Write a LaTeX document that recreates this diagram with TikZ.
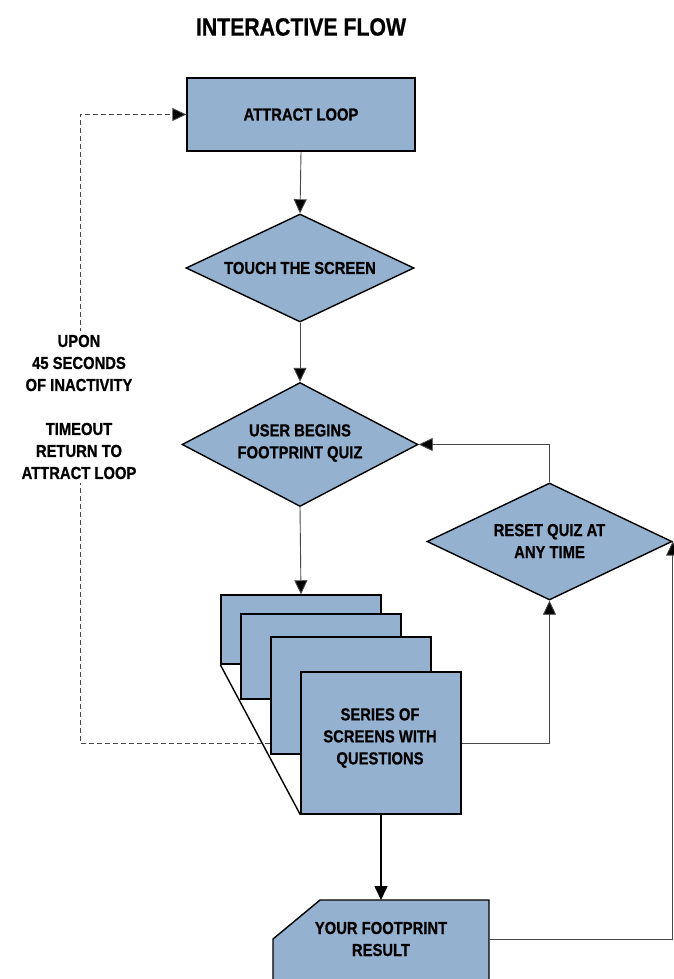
\documentclass[tikz,border=0pt]{standalone}
\usepackage{fontspec}
\setmainfont{Liberation Sans}[FakeStretch=0.85,BoldFeatures={FakeStretch=0.85,FakeBold=0.7}]
\usetikzlibrary{shapes.geometric,arrows.meta}
\definecolor{boxblue}{RGB}{149,177,208}
\definecolor{linegray}{RGB}{70,70,70}
\begin{document}
\begin{tikzpicture}[x=1pt,y=-1pt,
  txt/.style={font=\fontsize{17.4}{22}\selectfont\bfseries, align=center, inner sep=0pt},
  boxshape/.style={draw=black, line width=1.4pt, fill=boxblue, inner sep=0pt},
  dia/.style={diamond, boxshape, inner sep=0pt},
  conn/.style={draw=linegray, line width=0.9pt, -{Triangle[length=14pt,width=13pt,fill=black]}},
  thickconn/.style={draw=black, line width=1.6pt, -{Triangle[length=14pt,width=13pt,fill=black]}},
  dashconn/.style={draw=linegray, line width=0.9pt, dash pattern=on 5pt off 3pt, -{Triangle[length=14pt,width=13pt,fill=black]}}
]
\useasboundingbox (0,0) rectangle (674,979);
\clip (0,0) rectangle (674,979);

% title
\node[font=\fontsize{25}{28}\selectfont\bfseries, inner sep=0pt] (title) at (301,27) {INTERACTIVE FLOW};

% attract loop
\node[boxshape, minimum width=228pt, minimum height=73pt] (attract) at (301,114.5) {};
\node[txt] (attracttxt) at (attract.center) {ATTRACT LOOP};

% touch the screen
\node[dia, minimum width=228pt, minimum height=108pt] (touch) at (300,268) {};
\node[txt] (touchtxt) at (touch.center) {TOUCH THE SCREEN};

% user begins quiz
\node[dia, minimum width=236pt, minimum height=124pt] (user) at (300,444.5) {};
\node[txt] (usertxt) at (300,443) {USER BEGINS\\FOOTPRINT QUIZ};

% reset quiz
\node[dia, minimum width=245pt, minimum height=117pt] (reset) at (549.5,541.5) {};
\node[txt] (resettxt) at (549.5,541) {RESET QUIZ AT\\ANY TIME};

% stack of screens
\node[boxshape, minimum width=160pt, minimum height=69pt] (r1) at (301,629.5) {};
\node[boxshape, minimum width=160pt, minimum height=85pt] (r2) at (321,656.5) {};
\node[boxshape, minimum width=160pt, minimum height=117pt] (r3) at (351,695.5) {};
\node[boxshape, minimum width=160pt, minimum height=142pt] (r4) at (381,743) {};
\node[txt] (r4txt) at (380,738) {SERIES OF\\SCREENS WITH\\QUESTIONS};
\draw[line width=1.4pt] (r1.south west) -- (r4.south west);

% result
\coordinate (resA) at (320,900);
\coordinate (resB) at (273,939);
\coordinate (resC) at (273,995);
\coordinate (resD) at (489,995);
\coordinate (resE) at (489,900);
\coordinate (resEast) at (489,939);
\draw[boxshape] (resA) -- (resB) -- (resC) -- (resD) -- (resE) -- cycle;
\node[txt] (restxt) at (381,939) {YOUR FOOTPRINT\\RESULT};
\coordinate (resTop) at (381,900);

% connectors
\draw[conn] (attract.south) -- (touch.north);
\draw[conn] (touch.south) -- (user.north);
\draw[conn] (user.south) -- (r1.north);
\draw[thickconn] (r4.south) -- (resTop);
\draw[conn] (r4.east) -| (reset.south);
\draw[conn] (reset.north) |- (user.east);
\draw[conn] (resEast) -| (reset.east);

% timeout dashed loop
\coordinate (dl) at (80,743);
\draw[dashconn] (r3.west |- dl) -- (dl) |- (attract.west);
\node[txt, fill=white, inner ysep=4pt, inner xsep=2pt] (timeout) at (79,407)
  {UPON\\45 SECONDS\\OF INACTIVITY\\[22pt]TIMEOUT\\RETURN TO\\ATTRACT LOOP};
\end{tikzpicture}
\end{document}
